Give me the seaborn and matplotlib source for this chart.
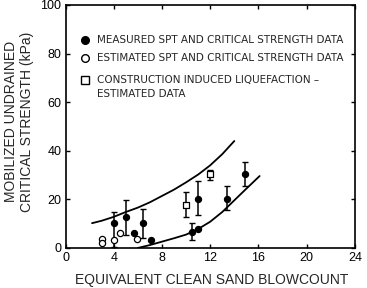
import numpy as np
import pandas as pd
import seaborn as sns
import matplotlib.pyplot as plt

# Measured SPT and critical strength data (filled circles)
meas_x = [4.0, 5.0, 5.7, 6.4, 7.1, 10.5, 11.0, 11.0, 13.4, 14.9]
meas_y = [10.4, 12.9, 6.1, 10.4, 3.3, 6.7, 7.8, 20.1, 20.1, 30.4]
meas_lo = [0.5, 5.4, np.nan, 4.0, np.nan, 3.3, np.nan, 13.6, 15.7, 25.6]
meas_hi = [15.0, 19.8, np.nan, 16.0, np.nan, 10.2, np.nan, 27.4, 25.3, 35.2]

# Estimated SPT and critical strength data (open circles)
est_x = [3.0, 3.0, 4.0, 4.5, 5.9]
est_y = [3.6, 2.2, 3.3, 6.1, 3.7]

# Construction induced liquefaction (open squares)
con_x = [10.0, 12.0]
con_y = [17.8, 30.4]
con_lo = [12.9, 27.8]
con_hi = [23.0, 32.2]

# Bounding curves
upper_x = [2.2, 3, 4, 5, 6, 7, 8, 9, 10, 11, 12, 13, 14]
upper_y = [10.2, 11.2, 12.8, 14.8, 16.6, 18.8, 21.4, 24.0, 27.0, 30.2, 34.0, 38.6, 44.0]
lower_x = [6.0, 7, 8, 9, 10, 11, 12, 13, 14, 15, 16.1]
lower_y = [0.0, 1.2, 2.6, 4.0, 5.5, 7.8, 10.8, 14.8, 19.6, 24.4, 29.6]

x_ticks = [0, 4, 8, 12, 16, 20, 24]
y_ticks = [0, 20, 40, 60, 80, 100]

legend_labels = ['MEASURED SPT AND CRITICAL STRENGTH DATA',
                 'ESTIMATED SPT AND CRITICAL STRENGTH DATA',
                 'CONSTRUCTION INDUCED LIQUEFACTION \u2013\nESTIMATED DATA']

sns.set_style("ticks")
plt.rcParams['font.family'] = ['Liberation Sans', 'DejaVu Sans']

fig = plt.figure(figsize=(3.67, 2.88), dpi=100)
ax = fig.add_axes([0.1785, 0.139, 0.7885, 0.844])

meas = pd.DataFrame({'x': meas_x, 'y': meas_y, 'lo': meas_lo, 'hi': meas_hi})
est = pd.DataFrame({'x': est_x, 'y': est_y})
con = pd.DataFrame({'x': con_x, 'y': con_y, 'lo': con_lo, 'hi': con_hi})

# curves
sns.lineplot(x=upper_x, y=upper_y, color='black', lw=1.3, ax=ax)
sns.lineplot(x=lower_x, y=lower_y, color='black', lw=1.3, ax=ax)

# error bars
eb = meas.dropna()
ax.errorbar(eb['x'], eb['y'], yerr=[eb['y'] - eb['lo'], eb['hi'] - eb['y']],
            fmt='none', ecolor='black', elinewidth=1.1, capsize=2, capthick=1.0, zorder=2)
ax.errorbar(con['x'], con['y'], yerr=[con['y'] - con['lo'], con['hi'] - con['y']],
            fmt='none', ecolor='black', elinewidth=1.1, capsize=2, capthick=1.0, zorder=2)

# points
sns.scatterplot(data=meas, x='x', y='y', marker='o', s=20, color='black',
                edgecolor='black', linewidth=0.8, ax=ax, zorder=3)
sns.scatterplot(data=est, x='x', y='y', marker='o', s=20, facecolor='white',
                edgecolor='black', linewidth=0.9, ax=ax, zorder=3)
sns.scatterplot(data=con, x='x', y='y', marker='s', s=20, facecolor='white',
                edgecolor='black', linewidth=0.9, ax=ax, zorder=3)

ax.set_xlim(0, 24)
ax.set_ylim(0, 100)
ax.set_xticks(x_ticks)
ax.set_yticks(y_ticks)
ax.tick_params(direction='in', length=3, width=1, top=True, right=True,
               labelsize=9, pad=3, colors='black')
for s in ax.spines.values():
    s.set_visible(True)
    s.set_linewidth(1.2)
    s.set_color('black')

ax.set_xlabel('EQUIVALENT CLEAN SAND BLOWCOUNT', fontsize=10, va='center')
ax.xaxis.set_label_coords(0.506, -0.13)
ax.set_ylabel('MOBILIZED UNDRAINED\nCRITICAL STRENGTH (kPa)', fontsize=10,
              va='center', linespacing=1.2)
ax.yaxis.set_label_coords(-0.16, 0.52)

# legend drawn by hand inside the axes
leg_y = [0.856, 0.782, 0.692]
leg_style = [dict(marker='o', color='black'),
             dict(marker='o', markerfacecolor='white', markeredgecolor='black'),
             dict(marker='s', markerfacecolor='white', markeredgecolor='black')]
for yy, lab, st in zip(leg_y, legend_labels, leg_style):
    ax.plot([0.068], [yy], ls='none', markersize=5.5, transform=ax.transAxes,
            clip_on=False, **st)
    for i, line in enumerate(lab.split('\n')):
        ax.text(0.109, yy - i * 0.06, line, transform=ax.transAxes, ha='left',
                va='center', fontsize=7.45, family='DejaVu Sans')

fig.savefig('out.png', dpi=100)
